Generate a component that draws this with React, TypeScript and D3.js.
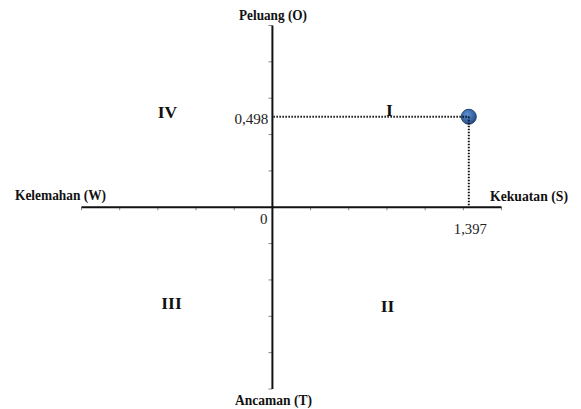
import React from "react";
import * as d3 from "d3";

// ---- data ----
const POINT_X = [1.397]; // Kekuatan (S) - Kelemahan (W)
const POINT_Y = [0.498]; // Peluang (O) - Ancaman (T)
const POINT_X_LABELS = ["1,397"];
const POINT_Y_LABELS = ["0,498"];
const X_TICK_STEP = 0.2716;
const X_TICK_INDEX = [-5, -4, -3, -2, -1, 1, 2, 3, 4, 5, 6];
const Y_TICKS = [-1, -0.8, -0.6, -0.4, -0.2, 0.2, 0.4, 0.6, 0.8, 1];
const AXIS_TITLES = ["Peluang (O)", "Ancaman (T)", "Kelemahan (W)", "Kekuatan (S)"];
const QUADRANTS = ["I", "II", "III", "IV"];
const ORIGIN_LABEL = ["0"];

const W = 581;
const H = 409;
const SERIF = "'Liberation Serif', 'Times New Roman', serif";

export default function App() {
  const x = d3
    .scaleLinear()
    .domain([-5 * X_TICK_STEP, 6 * X_TICK_STEP])
    .range([81.5, 501.5]);
  const y = d3.scaleLinear().domain([-1, 1]).range([389, 25.5]);

  const x0 = x(0);
  const y0 = y(0);
  const [xMin, xMax] = x.domain();
  const px = x(POINT_X[0]);
  const py = y(POINT_Y[0]);

  return (
    <svg
      width={W}
      height={H}
      style={{ position: "absolute", left: 0, top: 0, background: "#fff" }}
      fontFamily={SERIF}
    >
      <defs>
        <radialGradient id="pt" cx="40%" cy="35%" r="65%">
          <stop offset="0%" stopColor="#5f90d0" />
          <stop offset="70%" stopColor="#3563a6" />
          <stop offset="100%" stopColor="#274b82" />
        </radialGradient>
      </defs>

      {/* ticks */}
      {X_TICK_INDEX.map((i) => (
        <line
          key={"xt" + i}
          x1={x(i * X_TICK_STEP)}
          x2={x(i * X_TICK_STEP)}
          y1={y0}
          y2={y0 + 3}
          stroke="#888"
          strokeWidth={1}
        />
      ))}
      {Y_TICKS.map((t) => (
        <line
          key={"yt" + t}
          x1={x0 - 4}
          x2={x0}
          y1={y(t)}
          y2={y(t)}
          stroke="#888"
          strokeWidth={1}
        />
      ))}

      {/* axes */}
      <line x1={x(xMin)} x2={x(xMax)} y1={y0} y2={y0} stroke="#111" strokeWidth={2} />
      <line x1={x0} x2={x0} y1={y(1)} y2={y(-1)} stroke="#111" strokeWidth={2} />

      {/* point */}
      <circle cx={px} cy={py} r={7.5} fill="url(#pt)" stroke="#24426c" strokeWidth={1} />

      {/* dotted guides */}
      <line
        x1={x0 + 1}
        x2={px}
        y1={py}
        y2={py}
        stroke="#111"
        strokeWidth={2}
        strokeDasharray="1.5,1.5"
      />
      <line
        x1={px}
        x2={px}
        y1={py}
        y2={y0 - 1}
        stroke="#111"
        strokeWidth={2}
        strokeDasharray="1.5,1.5"
      />

      {/* value labels */}
      <text x={x0 - 4} y={124} textAnchor="end" fontSize={15} fill="#222" textLength={34} lengthAdjust="spacingAndGlyphs">
        {POINT_Y_LABELS[0]}
      </text>
      <text x={px - 15} y={234} fontSize={15} fill="#222" textLength={33} lengthAdjust="spacingAndGlyphs">
        {POINT_X_LABELS[0]}
      </text>
      <text x={x0 - 5} y={224} textAnchor="end" fontSize={15} fill="#222">
        {ORIGIN_LABEL[0]}
      </text>

      {/* axis titles */}
      <text x={239} y={20} fontSize={15} fontWeight="bold" fill="#111" textLength={68} lengthAdjust="spacingAndGlyphs">
        {AXIS_TITLES[0]}
      </text>
      <text x={235} y={405} fontSize={15} fontWeight="bold" fill="#111" textLength={77} lengthAdjust="spacingAndGlyphs">
        {AXIS_TITLES[1]}
      </text>
      <text x={15} y={200} fontSize={15} fontWeight="bold" fill="#111" textLength={91} lengthAdjust="spacingAndGlyphs">
        {AXIS_TITLES[2]}
      </text>
      <text x={490} y={200.5} fontSize={15} fontWeight="bold" fill="#111" textLength={78} lengthAdjust="spacingAndGlyphs">
        {AXIS_TITLES[3]}
      </text>

      {/* quadrant labels */}
      <text x={389.5} y={116} textAnchor="middle" fontSize={17.5} fontWeight="bold" fill="#111">
        {QUADRANTS[0]}
      </text>
      <text x={387.5} y={312} textAnchor="middle" fontSize={17.5} fontWeight="bold" fill="#111">
        {QUADRANTS[1]}
      </text>
      <text x={171.5} y={309} textAnchor="middle" fontSize={17.5} fontWeight="bold" fill="#111">
        {QUADRANTS[2]}
      </text>
      <text x={167.5} y={117.5} textAnchor="middle" fontSize={17.5} fontWeight="bold" fill="#111">
        {QUADRANTS[3]}
      </text>
    </svg>
  );
}
